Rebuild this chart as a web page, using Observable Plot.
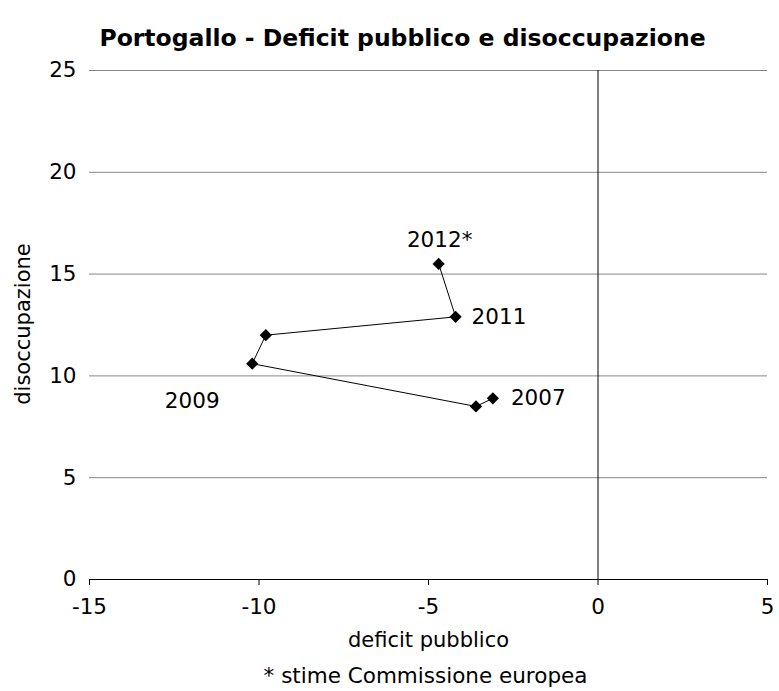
<!DOCTYPE html>
<html>
<head>
<meta charset="utf-8">
<script src="https://cdn.jsdelivr.net/npm/d3@7"></script>
<script src="https://cdn.jsdelivr.net/npm/@observablehq/plot@0.6"></script>
<style>
  html, body { margin: 0; padding: 0; background: #fff; }
  body { width: 779px; height: 691px; overflow: hidden; font-family: "DejaVu Sans", Verdana, sans-serif; }
  #title { height: 60px; line-height: 76px; text-align: center; font-weight: bold; font-size: 23.5px; color: #000; padding-left: 26px; white-space: nowrap; }
  #caption { height: 31px; line-height: 31px; text-align: center; font-size: 21.5px; color: #000; padding-left: 72px; white-space: nowrap; }
  svg { display: block; }
</style>
</head>
<body>
<div id="title">Portogallo - Deficit pubblico e disoccupazione</div>
<div id="chart"></div>
<div id="caption">* stime Commissione europea</div>
<script>
const years = ["2007", "2008", "2009", "2010", "2011", "2012*"];
const deficit = [-3.1, -3.6, -10.2, -9.8, -4.2, -4.7];
const unemployment = [8.9, 8.5, 10.6, 12.0, 12.9, 15.5];
const xTicks = [-15, -10, -5, 0, 5];
const yTicks = [0, 5, 10, 15, 20, 25];

const data = years.map((y, i) => ({year: y, x: deficit[i], y: unemployment[i]}));
const pick = (name) => data.filter(d => d.year === name);

const font = "DejaVu Sans, Verdana, sans-serif";
const chart = Plot.plot({
  width: 779,
  height: 600,
  marginTop: 10,
  marginBottom: 81,
  marginLeft: 89,
  marginRight: 12,
  style: {fontFamily: font, fontSize: "21px", color: "#000", background: "#fff", overflow: "visible"},
  x: {domain: [-15, 5]},
  y: {domain: [0, 25]},
  marks: [
    Plot.ruleY(yTicks.filter(v => v > 0), {stroke: "#878787", strokeWidth: 1}),
    Plot.ruleX([0], {y1: 0, y2: 25, stroke: "#000", strokeWidth: 1}),
    Plot.ruleY([0], {stroke: "#000", strokeWidth: 1}),
    Plot.axisX({ticks: xTicks, tickSize: 6, tickPadding: 13, tickFormat: d => d < 0 ? "-" + Math.abs(d) : String(d), label: null, fontSize: 21.5}),
    Plot.axisY({ticks: yTicks, tickSize: 0, tickPadding: 13, label: null, fontSize: 21.5}),
    Plot.line(data, {x: "x", y: "y", stroke: "#000", strokeWidth: 1}),
    Plot.dot(data, {x: "x", y: "y", symbol: "diamond2", r: 5.5, fill: "#000", stroke: "none"}),
    Plot.text(pick("2007"), {x: "x", y: "y", text: "year", textAnchor: "start", dx: 18, dy: 0, fontSize: 21.5}),
    Plot.text(pick("2009"), {x: "x", y: "y", text: "year", textAnchor: "middle", dx: -60, dy: 37, fontSize: 21.5}),
    Plot.text(pick("2011"), {x: "x", y: "y", text: "year", textAnchor: "start", dx: 16, dy: 0, fontSize: 21.5}),
    Plot.text(pick("2012*"), {x: "x", y: "y", text: "year", textAnchor: "middle", dx: 1, dy: -24, fontSize: 21.5}),
    Plot.text(["deficit pubblico"], {frameAnchor: "bottom", textAnchor: "middle", lineAnchor: "middle", dy: 61, fontSize: 21}),
    Plot.text(["disoccupazione"], {frameAnchor: "left", textAnchor: "middle", lineAnchor: "middle", dx: -66, dy: -1, rotate: -90, fontSize: 21})
  ]
});
document.getElementById("chart").appendChild(chart);
</script>
</body>
</html>
